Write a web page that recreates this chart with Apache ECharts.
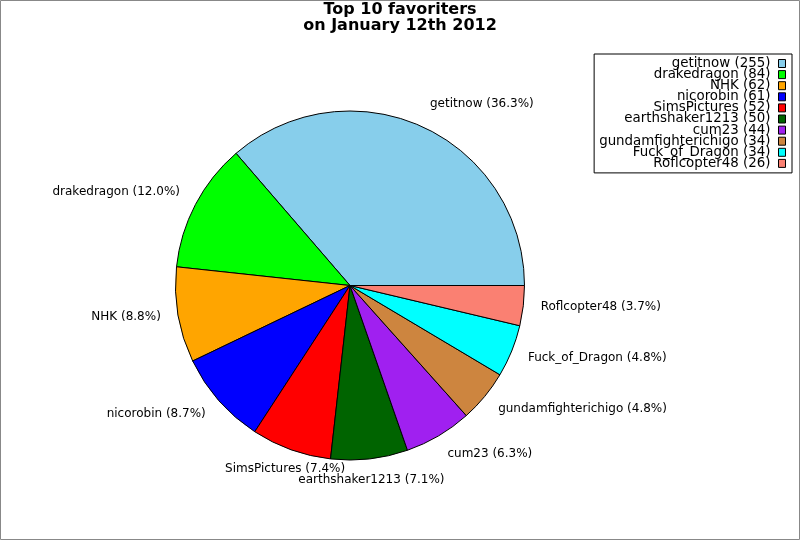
<!DOCTYPE html>
<html>
<head>
<meta charset="utf-8">
<script src="https://cdn.jsdelivr.net/npm/echarts@6/dist/echarts.min.js"></script>
<style>
html, body { margin: 0; padding: 0; background: #fff; }
#chart { width: 800px; height: 540px; }
</style>
</head>
<body>
<div id="chart"></div>
<script>
const names = ['getitnow', 'drakedragon', 'NHK', 'nicorobin', 'SimsPictures', 'earthshaker1213', 'cum23', 'gundamfighterichigo', 'Fuck_of_Dragon', 'Roflcopter48'];
const values = [255, 84, 62, 61, 52, 50, 44, 34, 34, 26];
const colors = ['#87CEEB', '#00FF00', '#FFA500', '#0000FF', '#FF0000', '#006400', '#A020F0', '#CD853F', '#00FFFF', '#FA8072'];
const titleText = 'Top 10 favoriters\non January 12th 2012';

const total = values.reduce((a, b) => a + b, 0);
const cum = [];
values.reduce((acc, v, i) => { cum[i] = acc; return acc + v; }, 0);
const valueByName = {};
names.forEach((n, i) => { valueByName[n] = values[i]; });

const CX = 350, CY = 285.5, R = 174.5;
const FONT = 'DejaVu Sans';

const chart = echarts.init(document.getElementById('chart'), null, { renderer: 'canvas' });
chart.setOption({
  animation: false,
  backgroundColor: '#ffffff',
  color: colors,
  title: {
    text: titleText,
    left: 'center',
    top: 2,
    padding: 0,
    textStyle: { fontFamily: FONT, fontSize: 16, fontWeight: 'bold', color: '#000', lineHeight: 16 }
  },
  legend: {
    orient: 'vertical',
    right: 8,
    top: 54,
    align: 'right',
    padding: [3, 6, 3, 5],
    itemGap: -1.9,
    itemWidth: 7,
    itemHeight: 8,
    icon: 'rect',
    backgroundColor: '#fff',
    borderColor: '#000',
    borderWidth: 1,
    borderRadius: 0,
    itemStyle: { borderColor: '#000', borderWidth: 1 },
    textStyle: { fontFamily: FONT, fontSize: 13.4, color: '#000', padding: [0, 3, 0, 0] },
    formatter: function (name) { return name + ' (' + valueByName[name] + ')'; },
    data: names
  },
  graphic: [{
    type: 'rect',
    shape: { x: 0.5, y: 0.5, width: 799, height: 539 },
    style: { fill: 'none', stroke: '#888', lineWidth: 1 },
    silent: true
  }],
  series: [{
    type: 'pie',
    center: [CX, CY],
    radius: R,
    startAngle: 0,
    clockwise: false,
    avoidLabelOverlap: false,
    minShowLabelAngle: 0,
    itemStyle: { borderColor: '#000', borderWidth: 1 },
    label: {
      show: true,
      position: 'outside',
      fontFamily: FONT,
      fontSize: 12,
      color: '#000',
      formatter: function (p) {
        return p.name + ' (' + (p.value / total * 100).toFixed(1) + '%)';
      }
    },
    labelLine: { show: false },
    labelLayout: function (p) {
      const i = p.dataIndex;
      const mid = (cum[i] + values[i] / 2) / total * 2 * Math.PI;
      const c = Math.cos(mid), s = Math.sin(mid);
      const align = Math.abs(c) < 0.38 ? 'center' : (c > 0 ? 'left' : 'right');
      return { x: CX + 1.1 * R * c, y: CY - 2 - 1.13 * R * s, align: align, verticalAlign: 'middle' };
    },
    emphasis: { disabled: true },
    data: names.map((n, i) => ({ name: n, value: values[i] }))
  }]
});
</script>
</body>
</html>
